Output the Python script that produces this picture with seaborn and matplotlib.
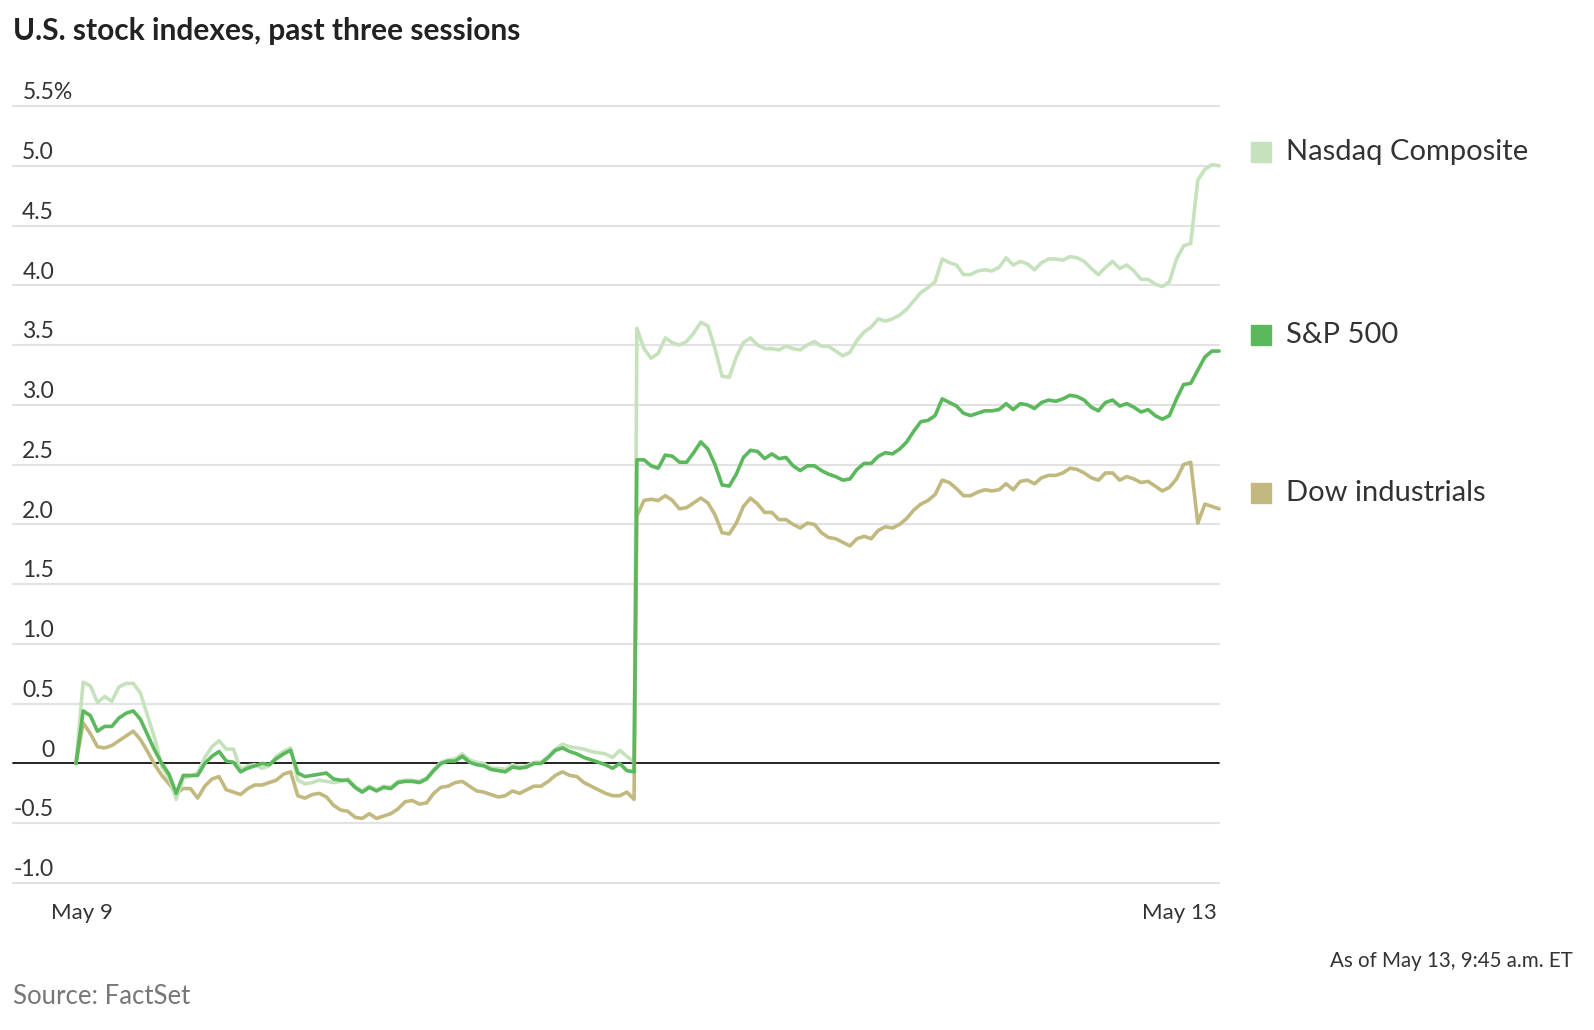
import numpy as np
import pandas as pd
import seaborn as sns
import matplotlib.pyplot as plt
import matplotlib.transforms as mtransforms
from matplotlib import font_manager
from matplotlib.patches import Rectangle

# percent change vs. May 8 close, 5-minute steps per session
sessions = ["May 9", "May 12", "May 13"]
series = ["Nasdaq Composite", "S&P 500", "Dow industrials"]
colors = ["#c6e2bd", "#5cb85c", "#c1b97f"]
legend_y = [152, 335, 493]

nasdaq_may9 = [
    0.00, 0.68, 0.65, 0.51, 0.56, 0.52, 0.64, 0.67, 0.67, 0.59,
    0.40, 0.21, -0.03, -0.12, -0.30, -0.12, -0.11, -0.08, 0.05, 0.14,
    0.19, 0.12, 0.12, -0.05, -0.02, -0.01, -0.04, -0.02, 0.06, 0.10,
    0.13, -0.14, -0.17, -0.16, -0.14, -0.15, -0.16, -0.15, -0.13, -0.19,
    -0.23, -0.19, -0.22, -0.19, -0.20, -0.15, -0.14, -0.14, -0.15, -0.12,
    -0.05, 0.01, 0.03, 0.04, 0.08, 0.03, 0.01, 0.00, -0.04, -0.04,
    -0.05, -0.01, -0.03, -0.02, 0.01, 0.01, 0.06, 0.12, 0.16, 0.14,
    0.13, 0.12, 0.10, 0.09, 0.08, 0.05, 0.11, 0.06, 0.01]
nasdaq_may12 = [
    3.64, 3.47, 3.39, 3.43, 3.56, 3.52, 3.50, 3.53, 3.60, 3.69,
    3.66, 3.47, 3.24, 3.23, 3.40, 3.52, 3.56, 3.50, 3.47, 3.47,
    3.46, 3.49, 3.47, 3.46, 3.50, 3.53, 3.49, 3.49, 3.45, 3.41,
    3.44, 3.54, 3.61, 3.65, 3.72, 3.70, 3.72, 3.75, 3.80, 3.87,
    3.94, 3.98, 4.03, 4.22, 4.19, 4.17, 4.09, 4.09, 4.12, 4.13,
    4.12, 4.15, 4.23, 4.17, 4.20, 4.18, 4.13, 4.19, 4.22, 4.22,
    4.21, 4.24, 4.23, 4.20, 4.14, 4.09, 4.15, 4.20, 4.14, 4.17,
    4.12, 4.05, 4.05, 4.01, 3.99, 4.03, 4.22, 4.33, 4.35]
nasdaq_may13 = [4.88, 4.97, 5.01, 5.00]

sp500_may9 = [
    0.00, 0.44, 0.40, 0.27, 0.31, 0.31, 0.38, 0.42, 0.44, 0.37,
    0.24, 0.11, 0.00, -0.09, -0.25, -0.10, -0.10, -0.10, 0.00, 0.06,
    0.10, 0.02, 0.01, -0.07, -0.04, -0.02, 0.00, -0.01, 0.04, 0.08,
    0.11, -0.08, -0.11, -0.10, -0.09, -0.08, -0.13, -0.14, -0.14, -0.20,
    -0.24, -0.20, -0.23, -0.20, -0.21, -0.16, -0.15, -0.15, -0.16, -0.13,
    -0.06, 0.00, 0.02, 0.02, 0.06, 0.01, -0.01, -0.02, -0.05, -0.06,
    -0.07, -0.03, -0.04, -0.03, 0.00, 0.00, 0.05, 0.11, 0.13, 0.10,
    0.08, 0.05, 0.03, 0.01, -0.01, -0.04, 0.00, -0.06, -0.07]
sp500_may12 = [
    2.54, 2.54, 2.49, 2.47, 2.58, 2.57, 2.52, 2.52, 2.60, 2.69,
    2.63, 2.50, 2.33, 2.32, 2.42, 2.56, 2.62, 2.61, 2.55, 2.59,
    2.55, 2.56, 2.49, 2.45, 2.49, 2.49, 2.45, 2.42, 2.40, 2.37,
    2.38, 2.46, 2.51, 2.51, 2.57, 2.60, 2.59, 2.63, 2.69, 2.78,
    2.86, 2.87, 2.91, 3.05, 3.02, 2.99, 2.93, 2.91, 2.93, 2.95,
    2.95, 2.96, 3.01, 2.96, 3.01, 3.00, 2.97, 3.02, 3.04, 3.03,
    3.05, 3.08, 3.07, 3.04, 2.98, 2.95, 3.02, 3.04, 2.99, 3.01,
    2.98, 2.94, 2.96, 2.91, 2.88, 2.91, 3.05, 3.17, 3.18]
sp500_may13 = [3.29, 3.40, 3.45, 3.45]

dow_may9 = [
    0.00, 0.34, 0.25, 0.14, 0.13, 0.15, 0.19, 0.23, 0.27, 0.20,
    0.10, -0.01, -0.10, -0.17, -0.25, -0.21, -0.21, -0.29, -0.19, -0.13,
    -0.11, -0.22, -0.24, -0.26, -0.21, -0.18, -0.18, -0.16, -0.14, -0.09,
    -0.07, -0.27, -0.29, -0.26, -0.25, -0.28, -0.35, -0.39, -0.40, -0.45,
    -0.46, -0.42, -0.46, -0.44, -0.42, -0.38, -0.32, -0.31, -0.34, -0.33,
    -0.25, -0.20, -0.19, -0.16, -0.15, -0.19, -0.23, -0.24, -0.26, -0.28,
    -0.27, -0.23, -0.25, -0.22, -0.19, -0.19, -0.15, -0.10, -0.07, -0.10,
    -0.11, -0.16, -0.19, -0.22, -0.25, -0.27, -0.27, -0.24, -0.30]
dow_may12 = [
    2.07, 2.20, 2.21, 2.20, 2.24, 2.20, 2.13, 2.14, 2.18, 2.22,
    2.18, 2.08, 1.93, 1.92, 2.01, 2.15, 2.22, 2.17, 2.10, 2.10,
    2.04, 2.04, 2.00, 1.97, 2.01, 2.00, 1.93, 1.89, 1.88, 1.85,
    1.82, 1.88, 1.90, 1.88, 1.95, 1.98, 1.97, 2.00, 2.05, 2.12,
    2.17, 2.20, 2.25, 2.37, 2.35, 2.30, 2.24, 2.24, 2.27, 2.29,
    2.28, 2.29, 2.34, 2.29, 2.36, 2.37, 2.34, 2.39, 2.41, 2.41,
    2.43, 2.47, 2.46, 2.43, 2.39, 2.37, 2.43, 2.43, 2.37, 2.40,
    2.38, 2.35, 2.36, 2.32, 2.28, 2.31, 2.38, 2.50, 2.52]
dow_may13 = [2.01, 2.17, 2.15, 2.13]

y_ticks = [5.5, 5.0, 4.5, 4.0, 3.5, 3.0, 2.5, 2.0, 1.5, 1.0, 0.5, 0, -0.5, -1.0]
y_labels = ["5.5%", "5.0", "4.5", "4.0", "3.5", "3.0", "2.5", "2.0", "1.5",
            "1.0", "0.5", "0", "-0.5", "-1.0"]

data = {
    "Nasdaq Composite": [nasdaq_may9, nasdaq_may12, nasdaq_may13],
    "S&P 500": [sp500_may9, sp500_may12, sp500_may13],
    "Dow industrials": [dow_may9, dow_may12, dow_may13],
}
# session start on the step axis; the overnight gap is shorter than a step
starts = [0, 79, 158]
first_len = len(nasdaq_may9)
rows = []
for name, days in data.items():
    for k, (day, vals) in enumerate(zip(sessions, days)):
        for j, v in enumerate(vals):
            if k == 0:
                x = j * 78.6 / (first_len - 1)
            else:
                x = starts[k] + j
            rows.append((name, day, x, v))
df = pd.DataFrame(rows, columns=["index", "session", "step", "change"])

sns.set_style("white")
names = {f.name for f in font_manager.fontManager.ttflist}
font = "Lato" if "Lato" in names else "DejaVu Sans"
plt.rcParams["font.family"] = [font, "DejaVu Sans"]

W, H = 1594, 1030
fig = plt.figure(figsize=(W / 100, H / 100), dpi=100)
ax = fig.add_axes([13 / W, 1 - 883 / H, (1219 - 13) / W, (883 - 106) / H])

px0, dpx = 76, 7.1
ax.set_xlim((13 - px0) / dpx, (1219 - px0) / dpx)
ax.set_ylim(-1.0, 5.5)

for v in y_ticks:
    if v == 0:
        ax.axhline(0, color="#111111", lw=1.3, zorder=1.5, clip_on=False)
    else:
        ax.axhline(v, color="#e2e2e2", lw=1.5, zorder=0, clip_on=False)

sns.lineplot(data=df, x="step", y="change", hue="index",
             hue_order=["Dow industrials", "Nasdaq Composite", "S&P 500"],
             palette=dict(zip(series, colors)), linewidth=2.6,
             estimator=None, legend=False, ax=ax)
for ln in ax.lines:
    ln.set_solid_joinstyle("round")
    ln.set_clip_on(False)

for s in ax.spines.values():
    s.set_visible(False)
ax.set_yticks([])
ax.set_xticks([0.85, 79.0, 158.1])
ax.set_xticklabels(["", "", ""])
ax.tick_params(axis="x", length=7, width=1.5, color="#222222", pad=0)
ax.set_xlabel("")
ax.set_ylabel("")

# y labels sit above their gridlines
trans = mtransforms.blended_transform_factory(fig.transFigure, ax.transData)
trans = mtransforms.offset_copy(trans, fig=fig, y=2, units="points")
for v, lab in zip(y_ticks, y_labels):
    if lab.endswith("%"):
        ax.text(23 / W, v, lab, transform=trans, ha="left", va="bottom",
                fontsize=16.5, color="#333333")
    else:
        ax.text(54 / W, v, lab, transform=trans, ha="right", va="bottom",
                fontsize=16.5, color="#333333")

fig.text(82 / W, 1 - 919 / H, "May 9", ha="center", va="baseline",
         fontsize=16, color="#333333")
fig.text(1217 / W, 1 - 919 / H, "May 13", ha="right", va="baseline",
         fontsize=16, color="#333333")

for name, c, yc in zip(series, colors, legend_y):
    fig.patches.append(Rectangle((1251 / W, 1 - (yc + 10) / H), 20 / W, 20 / H,
                                 transform=fig.transFigure, color=c))
    fig.text(1286 / W, 1 - yc / H, name, ha="left", va="center",
             fontsize=21, color="#333333")

fig.text(13 / W, 1 - 40 / H, "U.S. stock indexes, past three sessions",
         ha="left", va="baseline", fontsize=21.5, fontweight="bold",
         color="#222222")
fig.text(1573 / W, 1 - 967 / H, "As of May 13, 9:45 a.m. ET", ha="right",
         va="baseline", fontsize=14.8, color="#333333")
fig.text(13 / W, 1 - 1004 / H, "Source: FactSet", ha="left", va="baseline",
         fontsize=18.5, color="#777777")

fig.savefig("out.png", dpi=100, facecolor="white")
